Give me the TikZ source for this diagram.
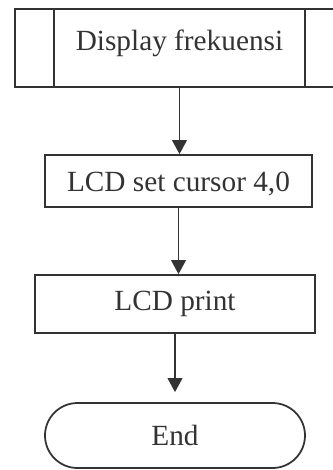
\documentclass[tikz,border=0pt]{standalone}
\usepackage{fontspec}
\setmainfont{Liberation Serif}
\usetikzlibrary{arrows.meta, positioning, shapes.misc}
\definecolor{InkGray}{rgb}{0.2, 0.2, 0.2}

\begin{document}
\begin{tikzpicture}[x=0.03cm, y=-0.03cm, line width=1.5pt, draw=InkGray,
    font=\fontsize{25}{30}\selectfont, text=InkGray,
    stepbox/.style={draw, rectangle, inner sep=0pt},
    endbox/.style={draw, rounded rectangle, inner sep=0pt},
    flow/.style={-{Triangle[width=4.4mm, length=4.2mm]}}]

% marco
\useasboundingbox (0,0) rectangle (333,470);
\clip (0,0) rectangle (333,470);

% bloques
\node[stepbox, minimum width=329*0.03cm, minimum height=78*0.03cm,
      text depth=0.45cm] (disp) at (179.5,48) {Display frekuensi};
\draw (disp.north west) ++(40,0) coordinate (dl) -- (dl |- disp.south);
\draw (disp.north east) ++(-40,0) coordinate (dr) -- (dr |- disp.south);

\node[stepbox, minimum width=267*0.03cm, minimum height=52*0.03cm,
      text height=0.75cm] (cursor) at (178.5,181) {LCD set cursor 4,0};
\node[stepbox, minimum width=280*0.03cm, minimum height=58*0.03cm] (print) at (175,304) {LCD print};
\node[endbox, minimum width=260*0.03cm, minimum height=65*0.03cm] (end) at (175,435.5) {End};

% flechas
\draw[flow] (disp.south) -- (disp.south |- cursor.north);
\draw[flow] (cursor.south) -- (cursor.south |- print.north);
\draw[flow] (print.south) -- ([yshift=0.3cm]print.south |- end.north);

\end{tikzpicture}
\end{document}
